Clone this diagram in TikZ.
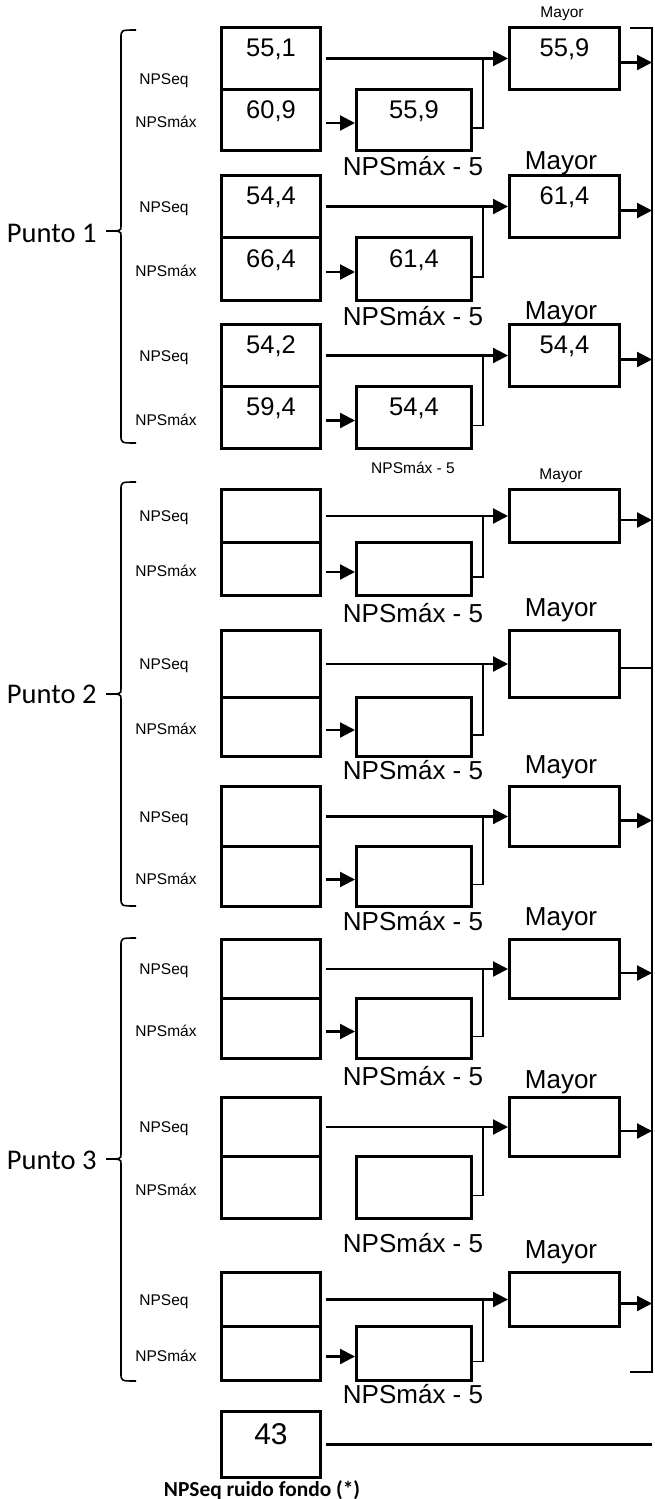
\documentclass[tikz,border=0pt]{standalone}
\usepackage{fontspec}
\setmainfont{Liberation Sans}
\newfontfamily\calibri{Carlito}
\usetikzlibrary{positioning,arrows.meta,calc}

\tikzset{
  caja/.style={draw,line width=3pt,inner sep=0pt,anchor=north west,
    font=\fontsize{25.5}{28}\selectfont,text height=18pt,text depth=22pt},
  flecha/.style={line width=2.2pt,-{Triangle[length=15pt,width=15pt]}},
  linea/.style={line width=2.2pt},
  conector/.style={line width=1.4pt},
  llave/.style={line width=1.6pt},
  chico/.style={font=\fontsize{15.5}{17}\selectfont},
  grande/.style={font=\fontsize{26}{28}\selectfont},
  punto/.style={font=\calibri\fontsize{28.5}{30}\selectfont,anchor=east},
}

% one block: name, top, height eq, height max, NPSeq, NPSmax, NPSmax-5, Mayor, overrides
\newcommand{\bloque}[9]{%
  \begin{scope}[entrada/.style={flecha},salida/.style={flecha},leq/.style={},#9]
  \node[caja,minimum width=99pt,minimum height=#3pt] (#1eq) at (220,#2) {#5};
  \node[caja,minimum width=99pt,minimum height=#4pt] (#1max) at (220,#2+#3) {#6};
  \node[caja,minimum width=115pt,minimum height=#4pt] (#1m5) at (355,#2+#3) {#7};
  \node[caja,minimum width=110pt,minimum height=#3pt] (#1may) at (508,#2) {#8};
  \node[chico,leq] (#1leq) at ([yshift=-2pt]#1eq.center -| colq) {NPSeq};
  \node[chico] (#1lmax) at ([yshift=-2pt]#1max.center -| colm) {NPSmáx};
  \draw[flecha] ([xshift=4pt]#1eq.east) -- (#1may.west);
  \draw[entrada] ([xshift=4pt,yshift=-3pt]#1max.east) -- ([yshift=-3pt]#1m5.west);
  \draw[conector] ([yshift=-8pt]#1m5.east) -| ($(#1m5.east |- #1may.west)+(10,0)$);
  \draw[salida] ([yshift=-4pt]#1may.east) -- ([yshift=-4pt]#1may.east -| der);
  \end{scope}
}

\begin{document}
\begin{tikzpicture}[x=1pt,y=-1pt]
\useasboundingbox[fill=white] (0,0) rectangle (654,1499);
\coordinate (der) at (652,0);
\coordinate (colq) at (164,0);
\coordinate (colm) at (166,0);

% Punto 1
\bloque{a}{26}{62}{61}{55,1}{60,9}{55,9}{55,9}{leq/.style={yshift=-20pt}}
\bloque{b}{174}{62}{63}{54,4}{66,4}{61,4}{61,4}{}
\bloque{c}{323}{62}{62}{54,2}{59,4}{54,4}{54,4}{}
% Punto 2
\bloque{d}{488}{53}{53}{}{}{}{}{}
\bloque{e}{629}{67}{59}{}{}{}{}{salida/.style={linea}}
\bloque{f}{785}{60}{60}{}{}{}{}{}
% Punto 3
\bloque{g}{938}{59}{60}{}{}{}{}{}
\bloque{h}{1096}{59}{62}{}{}{}{}{entrada/.style={draw=none}}
\bloque{i}{1271}{54}{54}{}{}{}{}{}

% labels over the boxes
\node[chico] (ma) at (562,14) {Mayor};
\node[grande] (ra) at (413,166) {NPSmáx - 5};
\node[grande] (mb) at (561,163) {Mayor};
\node[grande] (rb) at (413,316) {NPSmáx - 5};
\node[grande] (mc) at (561,313) {Mayor};
\node[chico] (rc) at (413,468) {NPSmáx - 5};
\node[chico] (md) at (561,476) {Mayor};
\node[grande] (rd) at (413,613) {NPSmáx - 5};
\node[grande] (me) at (561,610) {Mayor};
\node[grande] (re) at (413,770) {NPSmáx - 5};
\node[grande] (mf) at (561,767) {Mayor};
\node[grande] (rf) at (413,921) {NPSmáx - 5};
\node[grande] (mg) at (561,919) {Mayor};
\node[grande] (rg) at (413,1076) {NPSmáx - 5};
\node[grande] (mh) at (561,1082) {Mayor};
\node[grande] (rh) at (413,1243) {NPSmáx - 5};
\node[grande] (mi) at (561,1252) {Mayor};
\node[grande] (ri) at (413,1394) {NPSmáx - 5};

% braces
\draw[llave] (136,30) .. controls (121,30) .. (121,38) -- (121,226) .. controls (121,231) .. (106,231) .. controls (121,231) .. (121,236) -- (121,435) .. controls (121,443) .. (136,443);
\node[punto] (p1) at (100,233) {Punto 1};
\draw[llave] (136,482) .. controls (121,482) .. (121,490) -- (121,689) .. controls (121,694) .. (106,694) .. controls (121,694) .. (121,699) -- (121,898) .. controls (121,906) .. (136,906);
\node[punto] (p2) at (100,694) {Punto 2};
\draw[llave] (136,938) .. controls (121,938) .. (121,946) -- (121,1154) .. controls (121,1159) .. (106,1159) .. controls (121,1159) .. (121,1164) -- (121,1373) .. controls (121,1381) .. (136,1381);
\node[punto] (p3) at (100,1160) {Punto 3};
\draw[llave] (630,28) -- (der |- 0,28) -- (der |- 0,1372) -- (630,1372);

% background noise
\node[caja,minimum width=99pt,minimum height=66pt,font=\fontsize{30}{32}\selectfont,text height=21pt,text depth=22pt] (fondo) at (220,1410) {43};
\draw[linea] ([xshift=4pt]fondo.east) -- (fondo.east -| der);
\node[font=\calibri\bfseries\fontsize{21.4}{24}\selectfont] (nota) at (262,1490) {NPSeq ruido fondo (*)};
\end{tikzpicture}
\end{document}
